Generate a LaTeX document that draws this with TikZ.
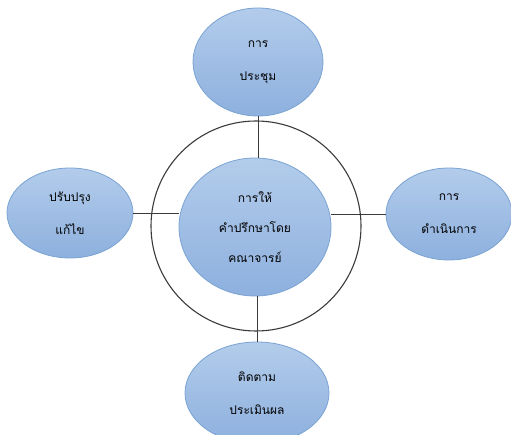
\documentclass[tikz,border=0pt]{standalone}
\usepackage{fontspec}
\newfontfamily\thaifont[Script=Thai]{Loma}
\usetikzlibrary{shapes.geometric}
\definecolor{bubtop}{HTML}{B3CCEB}
\definecolor{bubbot}{HTML}{8DB0DE}
\definecolor{bubedge}{HTML}{7AA3D3}
\definecolor{ringc}{HTML}{3A3A3A}
\tikzset{
  bubble/.style={ellipse, draw=bubedge, line width=0.8pt, top color=bubtop, bottom color=bubbot,
    inner sep=0pt, align=center, font=\thaifont\fontsize{12}{33}\selectfont},
  link/.style={draw=ringc, line width=0.9pt},
  ring/.style={draw=ringc, line width=1.1pt}
}
\begin{document}
\begin{tikzpicture}[x=1pt,y=-1pt]
\useasboundingbox (0,0) rectangle (511,435);
\draw[ring] (256,226) circle[radius=105];
\node[bubble, minimum width=152pt, minimum height=138pt, font=\thaifont\fontsize{12}{30}\selectfont] (c) at (255,227) {การให้\\คำปรึกษาโดย\\คณาจารย์};
\node[bubble, minimum width=130pt, minimum height=108pt] (t) at (258,62) {การ\\ประชุม};
\node[bubble, minimum width=126pt, minimum height=90pt] (l) at (70,213) {ปรับปรุง\\แก้ไข};
\node[bubble, minimum width=126pt, minimum height=92pt] (r) at (449,214) {การ\\ดำเนินการ};
\node[bubble, minimum width=144pt, minimum height=102pt] (b) at (257,393) {ติดตาม\\ประเมินผล};
\draw[link] (t.south) -- (t.south |- c.north);
\draw[link] (b.north) -- (b.north |- c.south);
\draw[link] (l.east) -- (l.east -| c.west);
\draw[link] (r.west) -- (r.west -| c.east);
\end{tikzpicture}
\end{document}
